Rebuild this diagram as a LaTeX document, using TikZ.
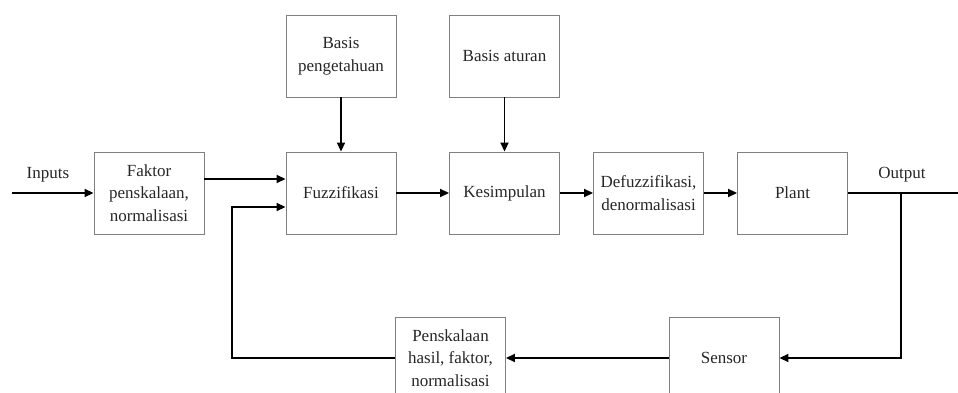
\documentclass[tikz,border=0pt]{standalone}
\usepackage{fontspec}
\setmainfont{Liberation Serif}
\usepackage{tikz}
\usetikzlibrary{
    arrows.meta,        % panah modern
    calc,               % perhitungan koordinat
    positioning         % posisi node
}

\tikzset{
    blok/.style={draw=gray, line width=0.9pt, minimum width=110pt,
        minimum height=82pt, align=center, inner sep=2pt,
        font=\fontsize{17}{22.5}\selectfont, text=black!85},
    panah/.style={-{Triangle[length=9pt,width=8pt]}, line width=1.8pt},
    garis/.style={line width=1.8pt},
    label/.style={font=\fontsize{17}{22.5}\selectfont, text=black!85}
}

\begin{document}
\begin{tikzpicture}[x=1pt, y=-1pt]

        \useasboundingbox (0,0) rectangle (958,393);
        \clip (0,0) rectangle (958,393);

        % Blok utama
        \node[blok] (faktor) at (149,193) {Faktor\\penskalaan,\\normalisasi};
        \node[blok] (fuzz) at (341,193) {Fuzzifikasi};
        \node[blok] (basisp) at (341,56) {Basis\\pengetahuan};
        \node[blok] (basisa) at (504.5,56) {Basis aturan};
        \node[blok] (kesim) at (504.5,193) {Kesimpulan};
        \node[blok] (defuzz) at (648.5,193) {Defuzzifikasi,\\denormalisasi};
        \node[blok] (plant) at (792.5,193) {Plant};

        % Blok umpan balik
        \node[blok] (sensor) at (724,358) {Sensor};
        \node[blok] (pensk) at (450.5,358) {Penskalaan\\hasil, faktor,\\normalisasi};

        % Titik bantu
        \coordinate (masuk) at (12,193);
        \coordinate (keluar) at (958,193);
        \coordinate (cabang) at (901,193);
        \coordinate (balik) at (232,207);

        % Label
        \node[label] (inputs) at (48,175) {Inputs};
        \node[label] (output) at (902,175) {Output};

        % Panah jalur maju
        \draw[panah] (masuk) -- (faktor.west);
        \draw[panah] ([yshift=14pt]faktor.east) -- ([yshift=14pt]fuzz.west);
        \draw[panah] (basisp.south) -- (fuzz.north);
        \draw[panah] (basisa.south) -- (kesim.north);
        \draw[panah] (fuzz) -- (kesim);
        \draw[panah] (kesim) -- (defuzz);
        \draw[panah] (defuzz) -- (plant);
        \draw[garis] (plant.east) -- (keluar);

        % Panah umpan balik
        \draw[panah] (cabang) |- (sensor.east);
        \draw[panah] (sensor.west) -- (pensk.east);
        \draw[panah] (pensk.west) -| (balik) -- ([yshift=-14pt]fuzz.west);

    \end{tikzpicture}
\end{document}
